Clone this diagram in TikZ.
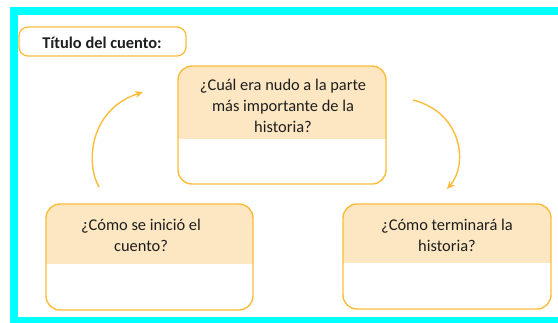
\documentclass[tikz,border=0pt]{standalone}
\usepackage{fontspec}
\setmainfont{Carlito}
\usetikzlibrary{arrows.meta}
\definecolor{framecyan}{RGB}{0,255,255}
\definecolor{boxline}{RGB}{250,188,58}
\definecolor{hdrfill}{RGB}{253,231,194}
\definecolor{txt}{RGB}{30,30,30}
\tikzset{
  qbox/.style={draw=boxline, line width=1.4pt, rounded corners=14pt, minimum width=#1, inner sep=0pt},
  hdr/.style={path picture={\fill[hdrfill, sharp corners] ([xshift=-5pt,yshift=5pt]path picture bounding box.north west) rectangle ([xshift=5pt,yshift=-#1]path picture bounding box.north east);}},
  qtext/.style={text=txt, font=\fontsize{16.4pt}{21pt}\selectfont, align=center, inner sep=0pt},
  flow/.style={draw=boxline, line width=1.4pt, -{Stealth[length=8pt,width=7pt]}},
}
\begin{document}
\begin{tikzpicture}[x=1pt,y=-1pt]
\useasboundingbox (0,0) rectangle (558,322);
\begin{scope}
\clip (0,0) rectangle (558,322);
\draw[framecyan, line width=7.6pt] (13.8,11) rectangle (580,321);
\end{scope}
% title
\node[draw=boxline, line width=1.3pt, rounded corners=9pt, minimum width=167pt, minimum height=29pt, inner sep=0pt] (title) at (102.5,41.5) {};
\node[qtext, font=\fontsize{16.4pt}{18pt}\selectfont\bfseries] (titletext) at (102,42.5) {Título del cuento:};
% boxes
\node[qbox=208pt, minimum height=118pt, hdr=73pt] (top) at (282,125) {};
\node[qbox=207pt, minimum height=106pt, hdr=60pt] (left) at (149.5,257) {};
\node[qbox=208pt, minimum height=105pt, hdr=59pt] (right) at (447,256.5) {};
\node[qtext] (toptext) at (283,106) {¿Cuál era nudo a la parte\\más importante de la\\historia?};
\node[qtext] (lefttext) at (141,235) {¿Cómo se inició el\\cuento?};
\node[qtext] (righttext) at (447,235) {¿Cómo terminará la\\historia?};
% arrows
\coordinate (a1s) at (99,187);
\coordinate (a1e) at (143,92);
\coordinate (a2s) at (413,100);
\coordinate (a2e) at (447,189);
\draw[flow] (a1s) .. controls (86,165) and (88,110) .. (a1e);
\draw[flow] (a2s) .. controls (463,113) and (468,165) .. (a2e);
\end{tikzpicture}
\end{document}
